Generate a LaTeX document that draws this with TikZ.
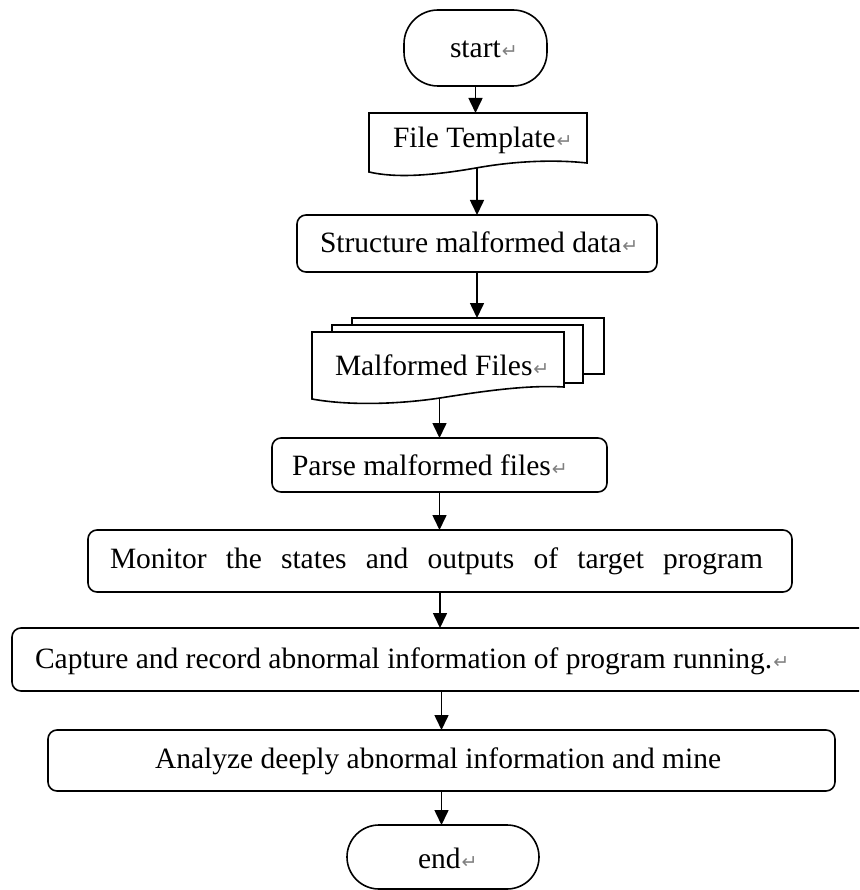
\documentclass[tikz,border=0pt]{standalone}
\usepackage{fontspec}
\setmainfont{Liberation Serif}
\newfontfamily\dejavu{DejaVu Sans}
\usetikzlibrary{arrows.meta}
\newcommand\retmark{\kern1pt{\dejavu\fontsize{19}{19}\selectfont\color{gray}↵}}
\begin{document}
\begin{tikzpicture}[x=1pt,y=-1pt,
  every node/.style={inner sep=0pt,outer sep=0pt},
  box/.style={draw,line width=1.6pt,rounded corners=9pt,fill=white},
  term/.style={draw,line width=1.6pt,rounded corners=34pt,fill=white},
  docshape/.style={draw,line width=1.6pt,fill=white},
  txt/.style={anchor=base west,font=\fontsize{29.5}{34}\selectfont},
  arr/.style={line width=1.6pt,-{Triangle[length=15pt,width=14pt]}}]
\useasboundingbox (0,0) rectangle (859,890);
\clip (0,0) rectangle (859,890);

% start
\node[term,minimum width=143pt,minimum height=76pt] (start) at (475.5,48) {};
\node[txt] (startT) at (450,58) {start\retmark};

% File Template (document shape)
\path[docshape] (369,113) -- (587,113) -- (587,163)
  .. controls (560,160) and (520,160) .. (476,168)
  .. controls (430,176) and (395,178) .. (369,172) -- cycle;
\node[minimum width=218pt,minimum height=50pt] (tmpl) at (478,138) {};
\coordinate (tmplB) at (476,168);
\node[txt] (tmplT) at (393,148) {File Template\retmark};

% Structure malformed data
\node[box,minimum width=360pt,minimum height=57pt] (struct) at (477,243.5) {};
\node[txt] (structT) at (320,253) {Structure malformed data\retmark};

% Malformed Files (multi-document)
\path[docshape] (352,318) rectangle (604,374);
\node[minimum width=252pt,minimum height=56pt] (mfback) at (478,346) {};
\path[docshape] (332,325) rectangle (583,383);
\path[docshape] (312,332) -- (564,332) -- (564,387)
  .. controls (530,385) and (490,390) .. (440,398)
  .. controls (400,404) and (350,406) .. (312,399) -- cycle;
\coordinate (mfB) at (440,398);
\node[txt] (mfT) at (335,375) {Malformed Files\retmark};

% Parse malformed files
\node[box,minimum width=335pt,minimum height=54pt] (parse) at (439.5,465) {};
\node[txt] (parseT) at (292,475) {Parse malformed files\retmark};

% Monitor
\node[box,minimum width=704pt,minimum height=62pt] (monitor) at (440,561) {};
\node[txt] (monitorT) at (110,568) {\makebox[653pt][s]{Monitor the states and outputs of target program}};

% Capture
\node[box,minimum width=868pt,minimum height=63pt] (capture) at (446,659.5) {};
\node[txt] (captureT) at (35,668) {Capture and record abnormal information of program running.\retmark};

% Analyze
\node[box,minimum width=787pt,minimum height=61pt] (analyze) at (441.5,760.5) {};
\node[txt] (analyzeT) at (155,768) {Analyze deeply abnormal information and mine};

% end
\node[term,minimum width=192pt,minimum height=64pt,rounded corners=32pt] (end) at (443,857) {};
\node[txt] (endT) at (418,868) {end\retmark};

% connectors
\draw[arr] (start.south) -- (start.south |- tmpl.north);
\draw[arr] (struct.north |- tmplB) -- (struct.north);
\draw[arr] (struct.south) -- (struct.south |- mfback.north);
\draw[arr] (parse.north |- mfB) -- (parse.north);
\draw[arr] (parse.south) -- (parse.south |- monitor.north);
\draw[arr] (monitor.south) -- (monitor.south |- capture.north);
\draw[arr] (analyze.north |- capture.south) -- (analyze.north);
\draw[arr] (analyze.south) -- (analyze.south |- end.north);
\end{tikzpicture}
\end{document}
